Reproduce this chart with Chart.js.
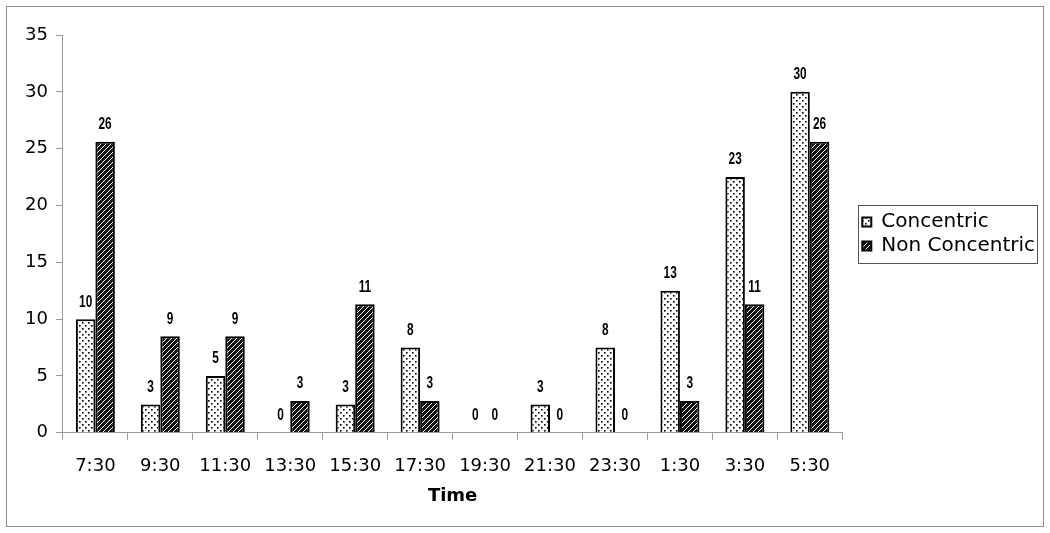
<!DOCTYPE html>
<html>
<head>
<meta charset="utf-8">
<script src="https://cdn.jsdelivr.net/npm/chart.js@4.4.1/dist/chart.umd.min.js"></script>
<style>
  html, body { margin: 0; padding: 0; background: #fff; }
  #wrap { width: 1050px; height: 533px; position: relative; }
</style>
</head>
<body>
<div id="wrap"><canvas id="timeChart" width="1050" height="533"></canvas></div>
<script>
const times = ['7:30', '9:30', '11:30', '13:30', '15:30', '17:30', '19:30', '21:30', '23:30', '1:30', '3:30', '5:30'];
const concentric = [10, 2.5, 5, 0, 2.5, 7.5, 0, 2.5, 7.5, 12.5, 22.5, 30];
const nonConcentric = [25.6, 8.5, 8.5, 2.8, 11.3, 2.8, 0, 0, 0, 2.8, 11.3, 25.6];
const concentricLabels = [10, 3, 5, 0, 3, 8, 0, 3, 8, 13, 23, 30];
const nonConcentricLabels = [26, 9, 9, 3, 11, 3, 0, 0, 0, 3, 11, 26];
const yTicks = [0, 5, 10, 15, 20, 25, 30, 35];

function dotPattern() {
    const c = document.createElement('canvas');
    c.width = 6; c.height = 6;
    const g = c.getContext('2d');
    g.fillStyle = '#fff';
    g.fillRect(0, 0, 6, 6);
    g.fillStyle = '#000';
    g.fillRect(1, 1, 1.6, 1.6);
    g.fillRect(4, 4, 1.6, 1.6);
    return g.createPattern(c, 'repeat');
}

function hatchPattern() {
    const c = document.createElement('canvas');
    c.width = 5; c.height = 5;
    const g = c.getContext('2d');
    g.fillStyle = '#111';
    g.fillRect(0, 0, 5, 5);
    g.strokeStyle = '#fff';
    g.lineWidth = 1;
    g.beginPath();
    g.moveTo(-1, 6); g.lineTo(6, -1);
    g.moveTo(-1, 1); g.lineTo(1, -1);
    g.moveTo(4, 6); g.lineTo(6, 4);
    g.stroke();
    return g.createPattern(c, 'repeat');
}

// value labels above each bar, squeezed to look like a condensed face
const barLabels = {
    id: 'barLabels',
    afterDatasetsDraw(chart) {
        const ctx = chart.ctx;
        const texts = [concentricLabels, nonConcentricLabels];
        const sx = 0.74;
        ctx.save();
        ctx.scale(sx, 1);
        ctx.font = 'bold 16px "Liberation Sans", Arial, sans-serif';
        ctx.fillStyle = '#000';
        ctx.textAlign = 'center';
        ctx.textBaseline = 'middle';
        chart.data.datasets.forEach((ds, i) => {
            chart.getDatasetMeta(i).data.forEach((bar, j) => {
                ctx.fillText(String(texts[i][j]), bar.x / sx, bar.y - 17);
            });
        });
        ctx.restore();
    }
};

// move legend a bit right and up, like the original
const legendShift = {
    id: 'legendShift',
    afterLayout(chart) {
        const lg = chart.legend;
        const dx = 16;
        const dy = 234 - (lg.top + lg.bottom) / 2;
        lg.left += dx; lg.right += dx;
        lg.top += dy; lg.bottom += dy;
    }
};

// outer frame and legend box
const frames = {
    id: 'frames',
    afterDraw(chart) {
        const ctx = chart.ctx;
        ctx.save();
        ctx.strokeStyle = '#8c8c8c';
        ctx.lineWidth = 1;
        ctx.strokeRect(6.5, 6.5, 1037, 520);
        const hb = chart.legend.legendHitBoxes;
        const l = Math.min(...hb.map(h => h.left)) - 4;
        const t = Math.min(...hb.map(h => h.top)) - 7;
        const r = Math.max(...hb.map(h => h.left + h.width)) + 2;
        const b = Math.max(...hb.map(h => h.top + h.height)) + 7;
        ctx.strokeStyle = '#555';
        ctx.strokeRect(Math.round(l) + 0.5, Math.round(t) + 0.5, Math.round(r - l), Math.round(b - t));
        ctx.restore();
    }
};

new Chart(document.getElementById('timeChart'), {
    type: 'bar',
    data: {
        labels: times,
        datasets: [{
            label: 'Concentric',
            data: concentric,
            backgroundColor: dotPattern(),
            borderColor: '#000',
            borderWidth: 2,
            categoryPercentage: 0.6,
            barPercentage: 1
        }, {
            label: 'Non Concentric',
            data: nonConcentric,
            backgroundColor: hatchPattern(),
            borderColor: '#000',
            borderWidth: 2,
            categoryPercentage: 0.6,
            barPercentage: 1
        }]
    },
    options: {
        responsive: false,
        animation: false,
        layout: { padding: { top: 35, right: 21, left: 17, bottom: 26 } },
        plugins: {
            legend: {
                position: 'right',
                labels: {
                    font: { family: '"DejaVu Sans", Verdana, sans-serif', size: 20 },
                    color: '#000',
                    boxWidth: 9,
                    boxHeight: 9,
                    padding: 4
                }
            },
            tooltip: { enabled: false }
        },
        scales: {
            x: {
                grid: { display: true, drawOnChartArea: false, color: '#999', tickLength: 7, offset: true },
                border: { color: '#999' },
                ticks: {
                    color: '#000',
                    font: { family: '"DejaVu Sans", Verdana, sans-serif', size: 18 },
                    maxRotation: 0,
                    autoSkip: false,
                    padding: 16
                },
                title: {
                    display: true,
                    text: 'Time',
                    color: '#000',
                    font: { family: '"DejaVu Sans", Verdana, sans-serif', size: 18, weight: 'bold' },
                    padding: { top: -8, bottom: 0 }
                }
            },
            y: {
                min: 0,
                max: 35,
                afterBuildTicks(axis) { axis.ticks = yTicks.map(v => ({ value: v })); },
                grid: { display: true, drawOnChartArea: false, color: '#999', tickLength: 7 },
                border: { color: '#999' },
                ticks: {
                    color: '#000',
                    font: { family: '"DejaVu Sans", Verdana, sans-serif', size: 18 },
                    padding: 8
                }
            }
        }
    },
    plugins: [legendShift, barLabels, frames]
});
</script>
</body>
</html>
